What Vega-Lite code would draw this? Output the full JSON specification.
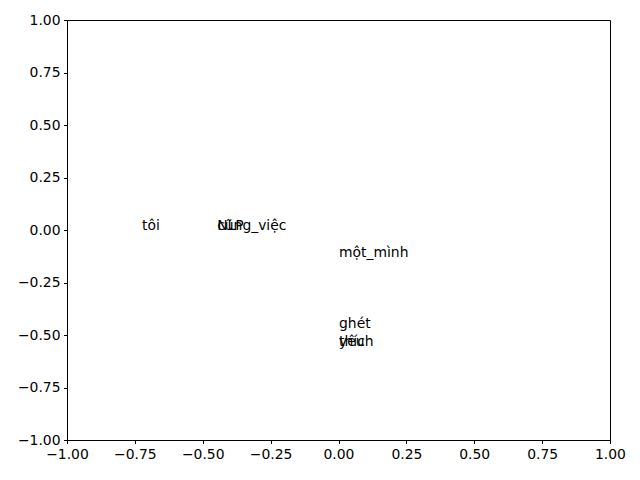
{
  "$schema": "https://vega.github.io/schema/vega-lite/v6.json",
  "autosize": "none",
  "width": 543,
  "height": 420,
  "padding": {"left": 67, "top": 20, "right": 30, "bottom": 40},
  "background": "white",
  "config": {
    "view": {"stroke": "black", "strokeWidth": 1},
    "font": "DejaVu Sans",
    "axis": {
      "grid": false,
      "domainColor": "black",
      "tickColor": "black",
      "tickSize": 3.5,
      "labelColor": "black",
      "labelFont": "DejaVu Sans",
      "labelFontSize": 13.9,
      "labelPadding": 3.5,
      "labelFlush": false,
      "labelOverlap": false,
      "title": null
    }
  },
  "data": {
    "values": [
      {"word": "tôi", "x": -0.724, "y": 0.0},
      {"word": "NLP", "x": -0.447, "y": 0.0},
      {"word": "cũng_việc", "x": -0.447, "y": 0.0},
      {"word": "một_mình", "x": 0.002, "y": -0.13},
      {"word": "ghét", "x": 0.002, "y": -0.465},
      {"word": "yêu", "x": 0.002, "y": -0.55},
      {"word": "thích", "x": 0.002, "y": -0.55}
    ]
  },
  "mark": {"type": "text", "align": "left", "baseline": "alphabetic", "font": "DejaVu Sans", "fontSize": 13.9, "color": "black"},
  "encoding": {
    "x": {"field": "x", "type": "quantitative", "scale": {"domain": [-1, 1], "nice": false, "zero": false},
      "axis": {"values": [-1, -0.75, -0.5, -0.25, 0, 0.25, 0.5, 0.75, 1], "format": ".2f"}},
    "y": {"field": "y", "type": "quantitative", "scale": {"domain": [-1, 1], "nice": false, "zero": false},
      "axis": {"values": [-1, -0.75, -0.5, -0.25, 0, 0.25, 0.5, 0.75, 1], "format": ".2f"}},
    "text": {"field": "word", "type": "nominal"}
  }
}
